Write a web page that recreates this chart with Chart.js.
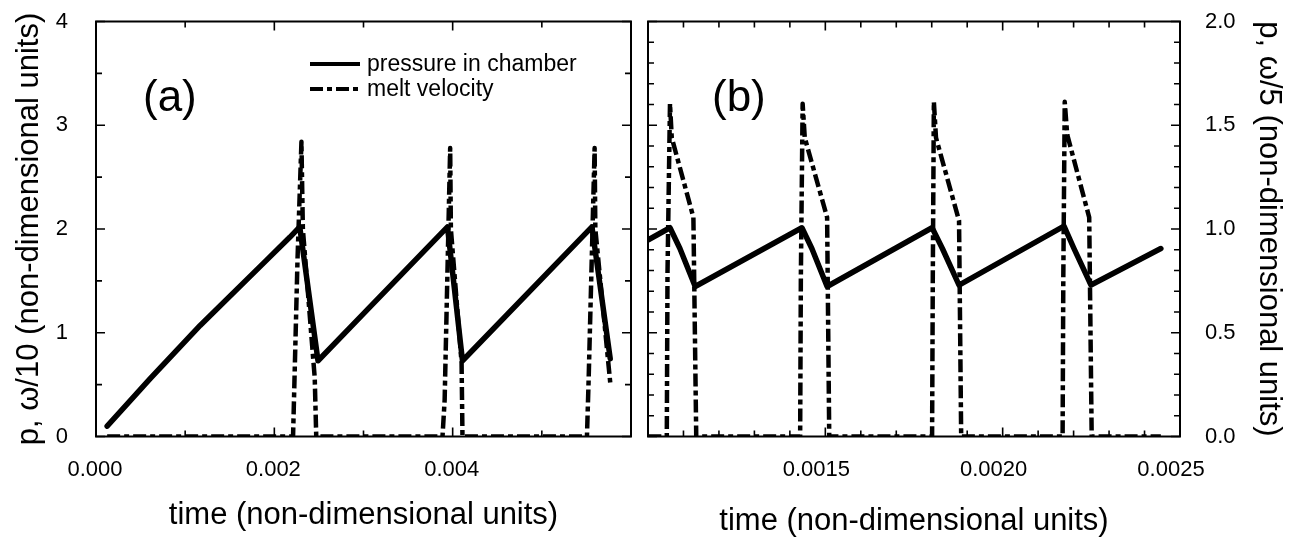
<!DOCTYPE html>
<html>
<head>
<meta charset="utf-8">
<script src="https://cdn.jsdelivr.net/npm/chart.js@4.4.1/dist/chart.umd.min.js"></script>
<style>
  body { margin:0; background:#fff; }
  #wrap { position:relative; width:1298px; height:541px; }
  #chartA { position:absolute; left:0; top:0; }
  #chartB { position:absolute; left:640px; top:0; }
</style>
</head>
<body>
<div id="wrap">
  <canvas id="chartA" width="640" height="541"></canvas>
  <canvas id="chartB" width="658" height="541"></canvas>
</div>
<script>
// ---- panel (a) : p and omega/10 ----
const timeA_p = [0.000125, 0.00061, 0.001168, 0.001913, 0.002173, 0.002285, 0.00249, 0.00303, 0.003942, 0.00411, 0.005562, 0.005767];
const pressA  = [0.10, 0.56, 1.07, 1.70, 1.92, 2.02, 0.73, 1.21, 2.02, 0.73, 2.02, 0.75];

const timeA_w = [0.000125, 0.00221, 0.00226, 0.002304, 0.00232, 0.002453, 0.00247,
                 0.003886, 0.00391, 0.003972, 0.00398, 0.0041, 0.00411,
                 0.005506, 0.005525, 0.005592, 0.0056, 0.005767];
const meltA   = [0, 0, 1.71, 2.84, 2.0, 0.565, 0,
                 0, 0.35, 2.78, 2.0, 0.71, 0,
                 0, 0.55, 2.78, 2.0, 0.52];

// ---- panel (b) : p and omega/5 ----
const timeB_p = [0.001001, 0.001062, 0.00109, 0.001133, 0.001434, 0.001462, 0.001505,
                 0.001801, 0.00183, 0.001877, 0.002173, 0.002201, 0.002249, 0.002446];
const pressB  = [0.948, 1.006, 0.906, 0.723, 1.006, 0.906, 0.723,
                 1.006, 0.906, 0.73, 1.014, 0.906, 0.73, 0.906];

const timeB_w = [0.001001, 0.001053, 0.001055, 0.001062, 0.001067, 0.001128, 0.001136,
                 0.001429, 0.001431, 0.001436, 0.001442, 0.001505, 0.001511,
                 0.001801, 0.001803, 0.001806, 0.001812, 0.001877, 0.001883,
                 0.002169, 0.002171, 0.002175, 0.002182, 0.002244, 0.002251, 0.002446];
const meltB   = [0, 0, 0.79, 1.604, 1.44, 1.056, 0,
                 0, 0.77, 1.604, 1.44, 1.056, 0,
                 0, 0.77, 1.613, 1.44, 1.04, 0,
                 0, 0.77, 1.613, 1.455, 1.056, 0, 0];

// tick labels
const xLabelsA = ['0.000', '0.002', '0.004'];
const xLabelsB = ['0.0015', '0.0020', '0.0025'];
const seriesNames = ['pressure in chamber', 'melt velocity'];

const FONT = "'Liberation Sans', Arial, Helvetica, sans-serif";
Chart.defaults.font.family = FONT;
Chart.defaults.color = '#000';

function pts(xs, ys) {
	return xs.map(function(x, i){ return {x: x, y: ys[i]}; });
}

const dashPat = [13, 4, 5, 4];

// frame + inward ticks on all four sides
const frameTicks = {
	id: 'frameTicks',
	afterDraw(chart, args, o) {
		const ctx = chart.ctx, a = chart.chartArea;
		const xs = chart.scales.x, ys = chart.scales.y;
		ctx.save();
		ctx.strokeStyle = '#000';
		ctx.lineWidth = 2;
		ctx.strokeRect(a.left, a.top, a.right - a.left, a.bottom - a.top);
		ctx.lineWidth = 1.6;
		ctx.beginPath();
		let n = Math.round((xs.max - xs.min) / o.xStep);
		for (let i = 0; i <= n; i++) {
			let v = xs.min + i * o.xStep;
			let k = Math.round(v / o.xStep);
			let len = (k % o.xEvery === 0) ? 9 : 6;
			let px = xs.getPixelForValue(v);
			ctx.moveTo(px, a.top); ctx.lineTo(px, a.top + len);
			ctx.moveTo(px, a.bottom); ctx.lineTo(px, a.bottom - len);
		}
		n = Math.round((ys.max - ys.min) / o.yStep);
		for (let i = 0; i <= n; i++) {
			let v = ys.min + i * o.yStep;
			let k = Math.round(v / o.yStep);
			let len = (k % o.yEvery === 0) ? 9 : 6;
			let py = ys.getPixelForValue(v);
			ctx.moveTo(a.left, py); ctx.lineTo(a.left + len, py);
			ctx.moveTo(a.right, py); ctx.lineTo(a.right - len, py);
		}
		ctx.stroke();

		// panel letter
		ctx.fillStyle = '#000';
		ctx.font = '44px ' + FONT;
		ctx.textBaseline = 'middle';
		ctx.textAlign = 'left';
		ctx.fillText(o.panel, a.left + o.panelX, a.top + 77);

		// legend (only panel a)
		if (o.legend) {
			const ds = chart.data.datasets;
			ctx.font = '23px ' + FONT;
			[0, 1].forEach(function(i){
				let yy = 64 + i * 25;
				ctx.lineWidth = 4;
				ctx.setLineDash(ds[i].borderDash || []);
				ctx.beginPath();
				ctx.moveTo(310, yy); ctx.lineTo(360, yy);
				ctx.stroke();
				ctx.setLineDash([]);
				ctx.fillText(ds[i].label, 367, yy + 1);
			});
		}
		ctx.restore();
	}
};

function makeOptions(xmin, xmax, xstep, labels, ymax, ystep, ypos, yfmt) {
	return {
		responsive: false,
		animation: false,
		layout: { padding: ypos === 'left' ? {left: 0, top: 21.5, right: 9, bottom: 0}
		                                  : {left: 8, top: 21.5, right: 0, bottom: 0} },
		plugins: { legend: { display: false }, tooltip: { enabled: false } },
		elements: { point: { radius: 0 }, line: { tension: 0 } },
		scales: {
			x: {
				type: 'linear', min: xmin, max: xmax,
				grid: { display: false, drawTicks: false },
				border: { display: false },
				ticks: {
					stepSize: xstep, autoSkip: false, maxRotation: 0,
					padding: 20, labelOffset: ypos === 'left' ? -1 : -9,
					font: { size: 22 },
					callback: function(v) {
						let s = v.toFixed(labels[0].length - 2);
						return labels.indexOf(s) >= 0 ? s : '';
					}
				},
				title: {
					display: true, text: 'time (non-dimensional units)',
					font: { size: 31 }, padding: { bottom: ypos === 'left' ? 7 : 1, top: 0 }
				},
				afterFit: function(s) {
					s.height = 104.5;
					s.paddingLeft = 0; s.paddingRight = 0;
				}
			},
			y: {
				position: ypos, min: 0, max: ymax,
				grid: { display: false, drawTicks: false },
				border: { display: false },
				ticks: {
					stepSize: ystep, padding: ypos === 'left' ? 28 : 25,
					font: { size: 22 },
					callback: yfmt
				},
				title: {
					display: true,
					text: ypos === 'left' ? 'p, \u03c9/10 (non-dimensional units)' : 'p, \u03c9/5 (non-dimensional units)',
					font: { size: 31 }, padding: { top: 11, bottom: 0 }
				},
				afterFit: function(s) {
					s.width = ypos === 'left' ? 96 : 118;
					s.paddingTop = 0; s.paddingBottom = 0;
				}
			}
		}
	};
}

function makeData(tp, p, tw, w) {
	return {
		datasets: [
			{ label: seriesNames[0], data: pts(tp, p), borderColor: '#000', borderWidth: 5.5,
			  borderJoinStyle: 'round', borderCapStyle: 'round', fill: false },
			{ label: seriesNames[1], data: pts(tw, w), borderColor: '#000', borderWidth: 4.5,
			  borderDash: dashPat, borderJoinStyle: 'round', fill: false }
		]
	};
}

let optA = makeOptions(0, 0.006, 0.002, xLabelsA, 4, 1, 'left', function(v){ return String(v); });
optA.plugins.frameTicks = { xStep: 0.001, xEvery: 2, yStep: 0.5, yEvery: 2, panel: '(a)', panelX: 47, legend: true };

let optB = makeOptions(0.001, 0.0025, 0.0005, xLabelsB, 2, 0.5, 'right', function(v){ return v.toFixed(1); });
optB.plugins.frameTicks = { xStep: 0.0001, xEvery: 5, yStep: 0.1, yEvery: 5, panel: '(b)', panelX: 64, legend: false };

new Chart(document.getElementById('chartA'), {
	type: 'line',
	data: makeData(timeA_p, pressA, timeA_w, meltA),
	options: optA,
	plugins: [frameTicks]
});

new Chart(document.getElementById('chartB'), {
	type: 'line',
	data: makeData(timeB_p, pressB, timeB_w, meltB),
	options: optB,
	plugins: [frameTicks]
});
</script>
</body>
</html>
